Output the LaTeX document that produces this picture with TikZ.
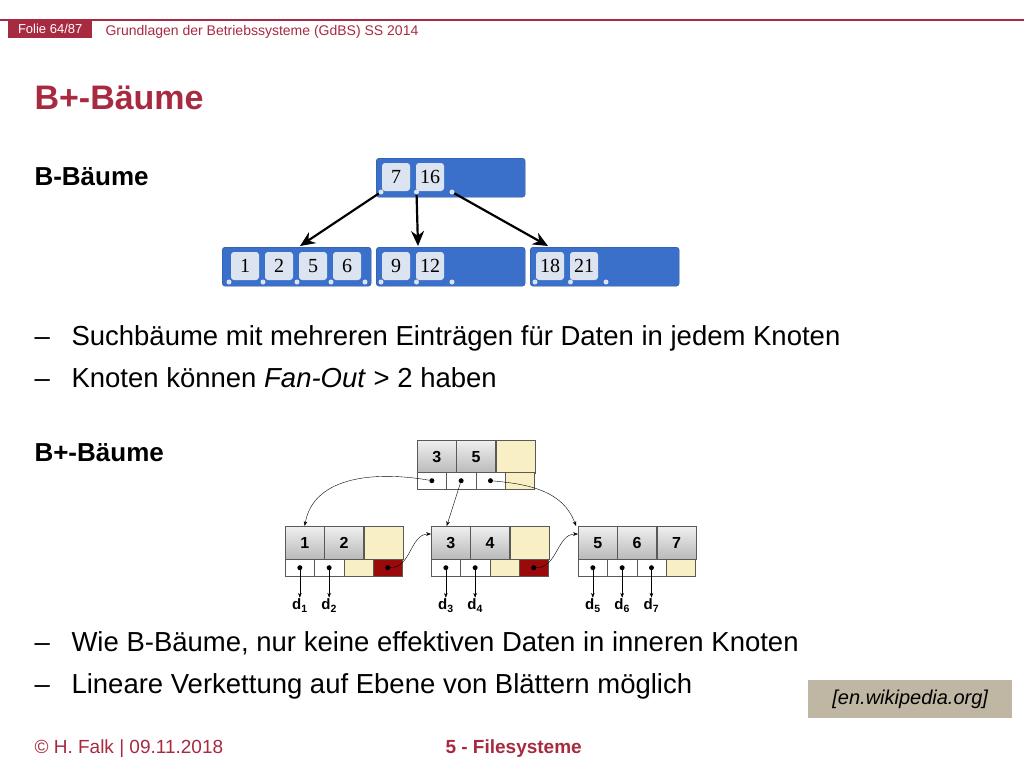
\documentclass[tikz,border=0pt]{standalone}
\usepackage{fontspec}
\setmainfont{Liberation Sans}
\newfontfamily\numfont{Liberation Serif}
\usetikzlibrary{arrows.meta,positioning}
\definecolor{folred}{HTML}{A82A40}
\definecolor{bblue}{HTML}{3A70C9}
\definecolor{bkey}{HTML}{DDE4F1}
\definecolor{pale}{HTML}{F8EFC4}
\definecolor{dred}{HTML}{9A0A0A}
\definecolor{tan}{HTML}{BFB6A3}
\tikzset{>=Stealth,
  bnode/.style={fill=bblue,draw=bblue!70!black,rounded corners=3pt,anchor=north west,minimum width=149pt,minimum height=39pt,inner sep=0pt},
  bkey/.style={fill=bkey,rounded corners=3pt,minimum width=28pt,minimum height=28pt,inner sep=0pt,font=\numfont\fontsize{20}{20}\selectfont},
  bdot/.style={circle,fill=bkey,inner sep=0pt,minimum size=5pt},
  kcell/.style={draw=gray!70!black,anchor=north west,minimum width=39pt,minimum height=33pt,inner sep=0pt,top color=gray!12,bottom color=gray!55,font=\bfseries\fontsize{16}{16}\selectfont},
  ycell/.style={draw=gray!70!black,fill=pale,anchor=north west,minimum width=39pt,minimum height=33pt,inner sep=0pt},
  pcell/.style={draw=gray!70!black,fill=white,anchor=north west,minimum width=29.3pt,minimum height=17pt,inner sep=0pt},
  pdot/.style={circle,fill=black,inner sep=0pt,minimum size=5pt},
  body/.style={anchor=base west,font=\fontsize{27.5}{27.5}\selectfont},
  head/.style={anchor=base west,font=\bfseries\fontsize{26}{26}\selectfont},
  dlab/.style={anchor=north,inner sep=1pt,font=\bfseries\fontsize{15}{15}\selectfont},
  barrow/.style={-{Stealth[length=15pt,width=13pt]},line width=2.2pt}
}
\begin{document}
\begin{tikzpicture}[x=1pt,y=-1pt]
\useasboundingbox[fill=white] (0,0) rectangle (1024,768);
% header
\draw[folred,line width=1.5pt] (0,20) -- (1024,20);
\node[fill=folred,text=white,anchor=north west,minimum width=84pt,minimum height=18pt,inner sep=0pt,font=\fontsize{13}{13}\selectfont] (folie) at (8,20) {Folie 64/87};
\node[anchor=base west,text=folred,font=\fontsize{14}{14}\selectfont] (course) at (102,36) {Grundlagen der Betriebssysteme (GdBS) SS 2014};
\node[anchor=base west,text=folred,font=\bfseries\fontsize{34}{34}\selectfont] (title) at (31,109) {B+-Bäume};
% text
\node[head] (bh) at (31,185) {B-Bäume};
\node[body] (d1) at (31,345) {–};
\node[body] (t1) at (68,345) {Suchbäume mit mehreren Einträgen für Daten in jedem Knoten};
\node[body] (d2) at (31,387) {–};
\node[body] (t2) at (68,387) {Knoten können \textit{Fan-Out} > 2 haben};
\node[head] (bph) at (31,461) {B+-Bäume};
\node[body] (d3) at (31,651) {–};
\node[body] (t3) at (68,651) {Wie B-Bäume, nur keine effektiven Daten in inneren Knoten};
\node[body] (d4) at (31,693) {–};
\node[body] (t4) at (68,693) {Lineare Verkettung auf Ebene von Blättern möglich};
\node[fill=tan,anchor=north west,minimum width=204pt,minimum height=38pt,inner sep=0pt,font=\itshape\fontsize{20}{20}\selectfont] (wiki) at (808,680) {[en.wikipedia.org]};
\node[anchor=base west,text=folred,font=\fontsize{19}{19}\selectfont] (foot) at (31,753) {© H. Falk | 09.11.2018};
\node[anchor=base west,text=folred,font=\bfseries\fontsize{19}{19}\selectfont] (chap) at (442,753) {5 - Filesysteme};
% B-tree
\node[bnode] (broot) at (376,158) {};
\node[bnode] (bl) at (222,247) {};
\node[bnode] (bm) at (376,247) {};
\node[bnode] (br) at (530,247) {};
\foreach \v [count=\i] in {7,16} \node[bkey] (rk\i) at (362+34*\i,177) {\v};
\foreach \v [count=\i] in {1,2,5,6} \node[bkey] (lk\i) at (211+34*\i,266) {\v};
\foreach \v [count=\i] in {9,12} \node[bkey] (mk\i) at (362+34*\i,266) {\v};
\foreach \v [count=\i] in {18,21} \node[bkey] (nk\i) at (516+34*\i,266) {\v};
\foreach \i in {0,1,2} \node[bdot] (rd\i) at (381+35.5*\i,192) {};
\foreach \i in {0,...,4} \node[bdot] (ld\i) at (229+34*\i,282) {};
\foreach \i in {0,1,2} \node[bdot] (md\i) at (381+35.5*\i,282) {};
\foreach \i in {0,1,2} \node[bdot] (nd\i) at (535+35.5*\i,282) {};
\draw[barrow] (rd0) -- (300,246);
\draw[barrow] (rd1) -- (418,246);
\draw[barrow] (rd2) -- (548,246);
% B+-tree root
\node[kcell] (pk1) at (417,440) {3};
\node[kcell,right=0pt of pk1] (pk2) {5};
\node[ycell,right=0pt of pk2] (pk3) {};
\foreach \i in {0,1,2} {
  \node[pcell] (pp\i) at (417+29.3*\i,472) {};
  \node[pdot] (pq\i) at (pp\i.center) {};
}
\node[pcell,fill=pale] (pp3) at (504.9,472) {};
% leaves
\foreach \n/\x/\a/\b in {la/285/1/2,lb/431/3/4,lc/578/5/6} {
  \node[kcell] (\n k1) at (\x,526) {\a};
  \node[kcell,right=0pt of \n k1] (\n k2) {\b};
  \foreach \i in {0,1} {
    \node[pcell] (\n p\i) at (\x+29.3*\i,559) {};
    \node[pdot] (\n q\i) at (\n p\i.center) {};
  }
}
\foreach \n/\x in {la/285,lb/431} {
  \node[ycell,right=0pt of \n k2] (\n k3) {};
  \node[pcell,fill=pale] (\n p2) at (\x+58.6,559) {};
  \node[pcell,fill=dred] (\n p3) at (\x+87.9,559) {};
  \node[pdot] (\n q3) at (\n p3.center) {};
}
\node[kcell,right=0pt of lck2] (lck3) {7};
\node[pcell] (lcp2) at (636.6,559) {};
\node[pdot] (lcq2) at (lcp2.center) {};
\node[pcell,fill=pale] (lcp3) at (665.9,559) {};
% links
\draw[->] (pq0) to[out=170,in=80] (lak1.north);
\draw[->] (pq1) -- ([xshift=-4pt]lbk1.north);
\draw[->] (pq2) to[out=-5,in=110] ([xshift=-2pt]lck1.north west);
\draw[->] (laq3) to[out=0,in=180] ([yshift=-8pt]lbk1.north west);
\draw[->] (lbq3) to[out=0,in=180] ([yshift=-8pt]lck1.north west);
% data pointers
\foreach \q/\v in {laq0/1,laq1/2,lbq0/3,lbq1/4,lcq0/5,lcq1/6,lcq2/7} {
  \node[dlab] (d\v) at ([yshift=-30pt]\q.center) {d\textsubscript{\v}};
  \draw[->] (\q) -- (d\v.north);
}
\end{tikzpicture}
\end{document}
